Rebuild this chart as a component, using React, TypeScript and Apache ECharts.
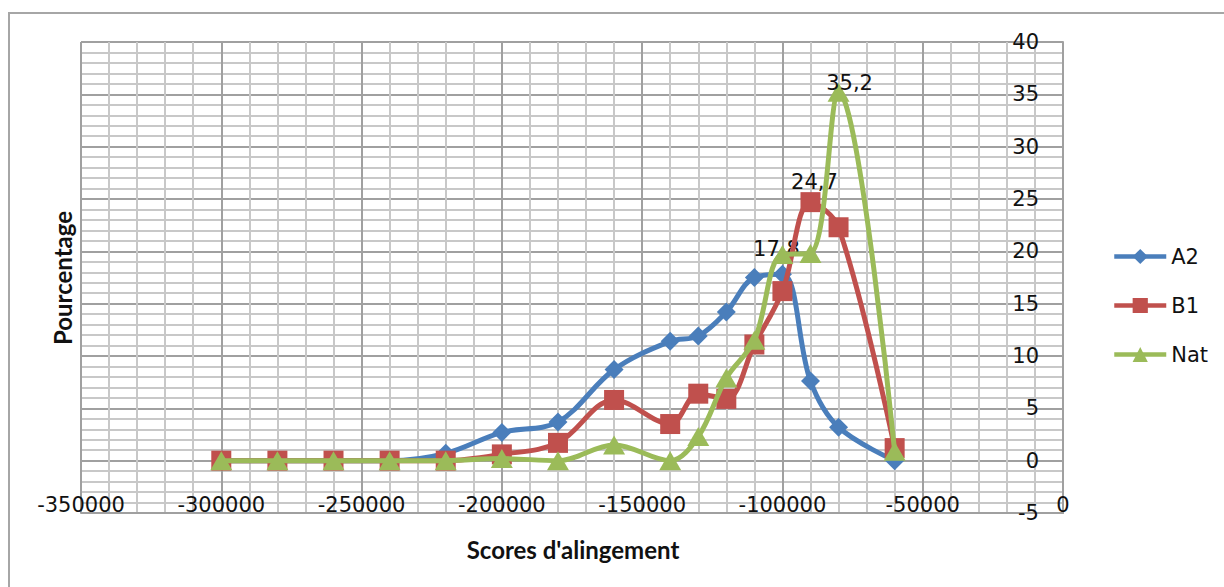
import React, { useEffect, useRef } from "react";
import * as echarts from "echarts";

const xValues = [-300000, -280000, -260000, -240000, -220000, -200000, -180000, -160000, -140000, -130000, -120000, -110000, -100000, -90000, -80000, -60000];
const a2Values = [0, 0, 0, 0, 0.7, 2.7, 3.7, 8.7, 11.4, 11.9, 14.2, 17.5, 17.8, 7.6, 3.2, 0];
const b1Values = [0, 0, 0, 0, 0, 0.6, 1.7, 5.8, 3.5, 6.4, 5.9, 11.1, 16.2, 24.7, 22.3, 1.2];
const natValues = [0, 0, 0, 0, 0, 0.2, 0, 1.5, 0, 2.3, 7.9, 11.5, 19.7, 19.8, 35.2, 0.9];
const seriesNames = ["A2", "B1", "Nat"];
const seriesColors = ["#4A7EBB", "#C0504D", "#9BBB59"];
const labelIndex = [12, 13, 14];
const labelOffsets = [[-6, -25], [4, -20], [11, -9]];

export default function App() {
  const ref = useRef<HTMLDivElement>(null);
  useEffect(() => {
    document.body.style.margin = "0";
    const chart = echarts.init(ref.current!, null, { renderer: "svg" });
    const labelFont = "DejaVu Sans";
    const all = [a2Values, b1Values, natValues];
    const symbols = ["diamond", "rect", "triangle"];
    const sizes = [[19, 19], [20, 20], [22, 19]];
    const series = all.map((vals, si) => ({
      name: seriesNames[si],
      type: "line",
      smooth: 0.35,
      symbol: symbols[si],
      symbolSize: sizes[si],
      color: seriesColors[si],
      lineStyle: { width: 5, color: seriesColors[si] },
      itemStyle: { color: seriesColors[si] },
      data: vals.map((v, i) => {
        const d: any = { value: [xValues[i], v] };
        if (i === labelIndex[si]) {
          d.label = {
            show: true,
            position: "inside",
            offset: labelOffsets[si],
            formatter: String(v).replace(".", ","),
            color: "#111111",
            fontSize: 21,
            fontFamily: labelFont,
          };
        }
        return d;
      }),
      z: 3 + si,
    }));
    chart.setOption({
      animation: false,
      backgroundColor: "#ffffff",
      grid: { left: 81, right: 161, top: 42, bottom: 74, containLabel: false },
      xAxis: {
        type: "value",
        min: -350000,
        max: 0,
        interval: 50000,
        axisLine: { show: true, onZero: false, lineStyle: { color: "#a0a0a0", width: 2 } },
        axisTick: { show: false },
        axisLabel: {
          margin: -8,
          verticalAlign: "middle",
          color: "#111111",
          fontSize: 21,
          fontFamily: labelFont,
          formatter: (v: number) => String(v),
        },
        splitLine: { show: true, lineStyle: { color: "#a0a0a0", width: 2 } },
        minorTick: { show: false, splitNumber: 5 },
        minorSplitLine: { show: true, lineStyle: { color: "#c8c8c8", width: 2 } },
      },
      yAxis: {
        type: "value",
        position: "right",
        min: -5,
        max: 40,
        interval: 5,
        axisLine: { show: true, onZero: false, lineStyle: { color: "#a0a0a0", width: 2 } },
        axisTick: { show: false },
        axisLabel: {
          inside: true,
          margin: 24,
          color: "#111111",
          fontSize: 21,
          fontFamily: labelFont,
          formatter: (v: number) => String(v),
        },
        splitLine: { show: true, lineStyle: { color: "#a0a0a0", width: 2 } },
        minorTick: { show: false, splitNumber: 5 },
        minorSplitLine: { show: true, lineStyle: { color: "#c8c8c8", width: 2 } },
      },
      legend: {
        orient: "vertical",
        left: 1107,
        top: 241,
        itemWidth: 52,
        itemHeight: 19,
        itemGap: 28,
        lineStyle: { width: 4.5 },
        textStyle: { fontSize: 21, fontFamily: labelFont, color: "#111111" },
        data: seriesNames,
      },
      graphic: [
        {
          type: "rect",
          shape: { x: 9, y: 13, width: 1400, height: 800 },
          style: { fill: "none", stroke: "#a6a6a6", lineWidth: 2 },
          silent: true,
          z: -10,
        },
        {
          type: "text",
          x: 62,
          y: 278,
          rotation: Math.PI / 2,
          style: {
            text: "Pourcentage",
            fontSize: 24,
            fontWeight: "bold",
            fontFamily: "Lato",
            fill: "#111111",
            textAlign: "center",
            textVerticalAlign: "middle",
          },
        },
        {
          type: "text",
          x: 573,
          y: 549,
          style: {
            text: "Scores d'alingement",
            fontSize: 24,
            fontWeight: "bold",
            fontFamily: "Lato",
            fill: "#111111",
            textAlign: "center",
            textVerticalAlign: "middle",
          },
        },
      ],
      series,
    });
    return () => chart.dispose();
  }, []);
  return <div ref={ref} style={{ width: 1224, height: 587 }} />;
}
